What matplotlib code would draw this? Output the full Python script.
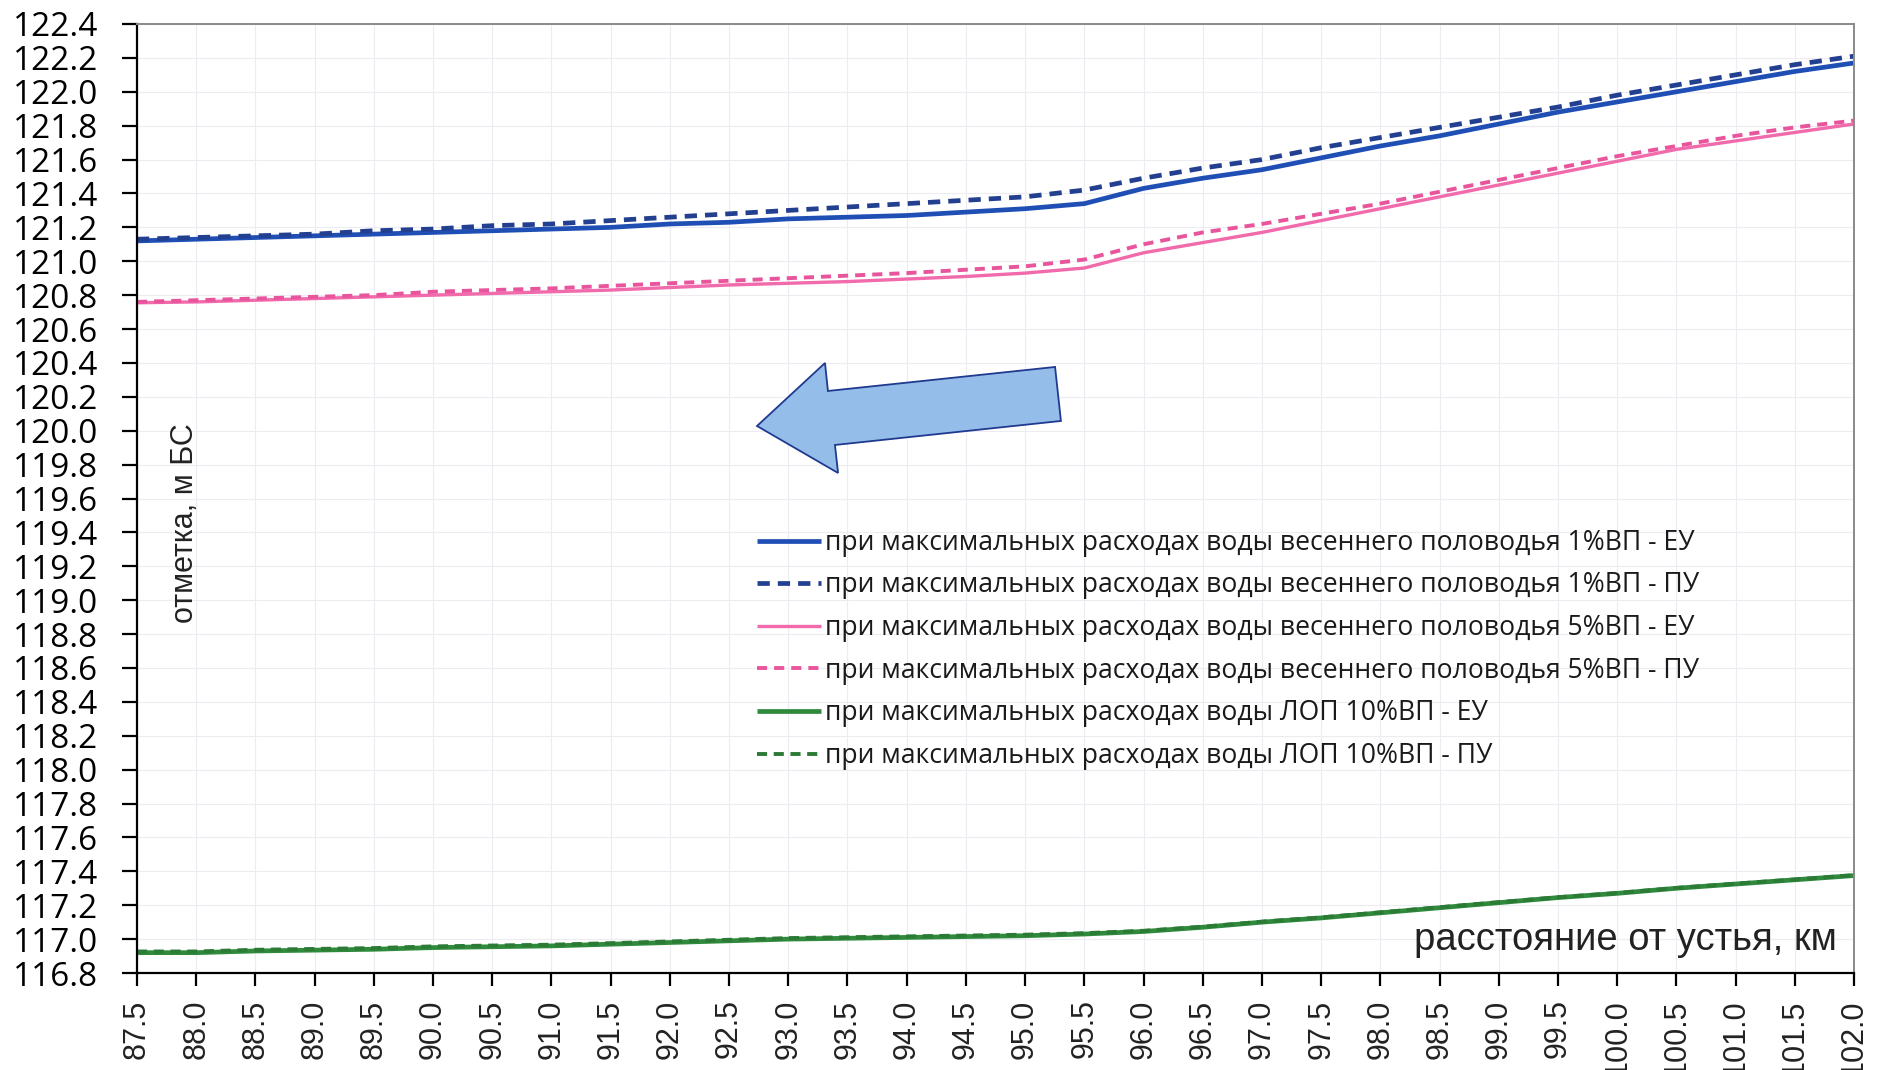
import numpy as np
import matplotlib
matplotlib.use("Agg")
import matplotlib.pyplot as plt
from matplotlib.patches import Polygon

# ---------------- data ----------------
km = [87.5, 88.0, 88.5, 89.0, 89.5, 90.0, 90.5, 91.0, 91.5, 92.0, 92.5, 93.0, 93.5, 94.0,
      94.5, 95.0, 95.5, 96.0, 96.5, 97.0, 97.5, 98.0, 98.5, 99.0, 99.5, 100.0, 100.5,
      101.0, 101.5, 102.0]

p1_eu = [121.12, 121.13, 121.14, 121.15, 121.16, 121.17, 121.18, 121.19, 121.20, 121.22,
         121.23, 121.25, 121.26, 121.27, 121.29, 121.31, 121.34, 121.43, 121.49, 121.54,
         121.61, 121.68, 121.74, 121.81, 121.88, 121.94, 122.00, 122.06, 122.12, 122.17]
p1_pu = [121.13, 121.14, 121.15, 121.16, 121.18, 121.19, 121.21, 121.22, 121.24, 121.26,
         121.28, 121.30, 121.32, 121.34, 121.36, 121.38, 121.42, 121.49, 121.55, 121.60,
         121.67, 121.73, 121.79, 121.85, 121.91, 121.98, 122.04, 122.10, 122.16, 122.21]
p5_eu = [120.755, 120.76, 120.77, 120.78, 120.79, 120.80, 120.81, 120.82, 120.83, 120.845,
         120.86, 120.87, 120.88, 120.895, 120.91, 120.93, 120.96, 121.05, 121.11, 121.17,
         121.24, 121.31, 121.38, 121.45, 121.52, 121.59, 121.66, 121.71, 121.76, 121.81]
p5_pu = [120.76, 120.77, 120.78, 120.79, 120.80, 120.82, 120.83, 120.84, 120.855, 120.87,
         120.885, 120.90, 120.915, 120.93, 120.95, 120.97, 121.01, 121.10, 121.17, 121.22,
         121.28, 121.34, 121.41, 121.48, 121.55, 121.62, 121.68, 121.74, 121.79, 121.83]
lop_eu = [116.92, 116.92, 116.93, 116.935, 116.94, 116.95, 116.955, 116.96, 116.97, 116.98,
          116.99, 117.00, 117.005, 117.01, 117.015, 117.02, 117.03, 117.045, 117.07, 117.10,
          117.125, 117.155, 117.185, 117.215, 117.245, 117.27, 117.30, 117.325, 117.35, 117.375]
lop_pu = [116.927, 116.927, 116.937, 116.942, 116.947, 116.957, 116.962, 116.967, 116.976,
          116.986, 116.996, 117.006, 117.011, 117.016, 117.021, 117.026, 117.035, 117.049,
          117.073, 117.103, 117.128, 117.158, 117.188, 117.218, 117.247, 117.272, 117.302,
          117.327, 117.352, 117.377]

labels = [
    "при максимальных расходах воды весеннего половодья 1%ВП - ЕУ",
    "при максимальных расходах воды весеннего половодья 1%ВП - ПУ",
    "при максимальных расходах воды весеннего половодья 5%ВП - ЕУ",
    "при максимальных расходах воды весеннего половодья 5%ВП - ПУ",
    "при максимальных расходах воды ЛОП 10%ВП - ЕУ",
    "при максимальных расходах воды ЛОП 10%ВП - ПУ",
]
x_ticks = np.arange(87.5, 102.01, 0.5)
y_ticks = np.arange(116.8, 122.41, 0.2)
x_label = "расстояние от устья, км"
y_label = "отметка, м БС"

# ---------------- figure ----------------
W, H = 1883, 1070
fig = plt.figure(figsize=(W / 100, H / 100), dpi=100)
fig.patch.set_facecolor("white")
ax = fig.add_axes([137 / W, (H - 973) / H, 1717 / W, 949 / H])

dash = (2.6, 1.7)
series = [
    (p1_eu, dict(color="#1f4fb5", lw=3.4, ls="-")),
    (p1_pu, dict(color="#233f8f", lw=3.4, dashes=dash)),
    (p5_eu, dict(color="#f06aac", lw=2.4, ls="-")),
    (p5_pu, dict(color="#e9559c", lw=2.8, dashes=(2.6, 1.8))),
    (lop_eu, dict(color="#2f8a3c", lw=3.4, ls="-")),
    (lop_pu, dict(color="#2b7a36", lw=2.8, dashes=dash)),
]
handles = []
for (vals, st), lab in zip(series, labels):
    h, = ax.plot(km, vals, label=lab, solid_capstyle="butt", **st)
    handles.append(h)

ax.set_xlim(87.5, 102.0)
ax.set_ylim(116.8, 122.4)
ax.set_xticks(x_ticks)
ax.set_xticklabels([f"{v:.1f}" for v in x_ticks], rotation=90,
                   fontfamily="Liberation Sans", fontsize=22)
ax.set_yticks(y_ticks)
ax.set_yticklabels([f"{v:.1f}" for v in y_ticks], fontfamily="Open Sans", fontsize=24,
                   color="#222222")
ax.tick_params(axis="x", direction="out", length=9, width=1.6, pad=10, colors="black",
               labelcolor="#222222")
ax.tick_params(axis="y", direction="out", length=11, width=1.6, pad=17, colors="black")

ax.grid(True, color="#ececf2", lw=0.8)
ax.set_axisbelow(True)
for s in ("left", "bottom"):
    ax.spines[s].set_color("black")
    ax.spines[s].set_linewidth(1.6)
for s in ("top", "right"):
    ax.spines[s].set_color("#8a8a8a")
    ax.spines[s].set_linewidth(1.4)

ax.text(0.990, 0.035, x_label, transform=ax.transAxes, ha="right", va="center",
        fontfamily="Liberation Sans", fontsize=27.5, color="#222222")
ax.text(0.028, 0.474, y_label, transform=ax.transAxes, ha="center", va="center",
        rotation=90, fontfamily="Liberation Sans", fontsize=22, color="#222222")

# arrow (direction of flow)
arrow_pts = [(0.3611, 0.5764), (0.4007, 0.6428), (0.4024, 0.6133), (0.5347, 0.6386),
             (0.5381, 0.5817), (0.4065, 0.5564), (0.4083, 0.5269)]
ax.add_patch(Polygon(arrow_pts, closed=True, transform=ax.transAxes,
                     facecolor="#95bde9", edgecolor="#1f3a8f", lw=1.3, zorder=3))

leg = ax.legend(handles=handles, loc="upper left", bbox_to_anchor=(0.3611, 0.4680),
                frameon=False, prop={"family": "Open Sans", "size": 19.1},
                handlelength=2.43, handletextpad=0.13, labelspacing=0.55,
                borderpad=0, borderaxespad=0)
for t in leg.get_texts():
    t.set_color("#1a1a1a")

fig.savefig("out.png", dpi=100, facecolor="white")
